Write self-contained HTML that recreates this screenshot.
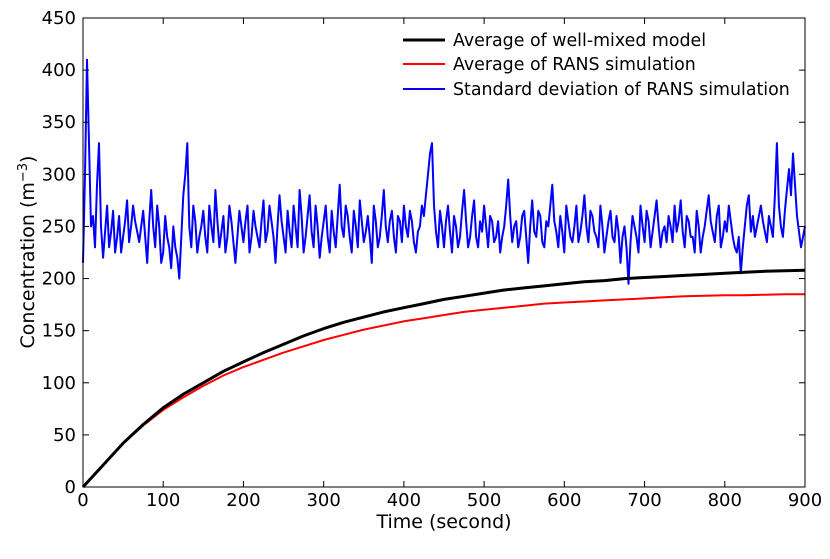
<!DOCTYPE html>
<html><head><meta charset="utf-8"><style>
body{margin:0;background:#fff;}
svg text{font-family:"DejaVu Sans","Liberation Sans",sans-serif;fill:#000;}
</style></head><body>
<svg id="chart" width="830" height="554" xmlns="http://www.w3.org/2000/svg">
<g id="series"></g>
<rect x="83" y="18" width="722" height="469" fill="none" stroke="#000" stroke-width="1"/>
<g id="ticks"></g>
<text x="444" y="528" font-size="19" text-anchor="middle">Time (second)</text>
<text transform="translate(34,252) rotate(-90)" font-size="19" text-anchor="middle">Concentration (m<tspan dy="-7" font-size="13">−3</tspan><tspan dy="7">)</tspan></text>
<g>
<line x1="403" y1="40" x2="445" y2="40" stroke="#000" stroke-width="3"/>
<text x="453" y="46" font-size="17.4">Average of well-mixed model</text>
<line x1="403" y1="64" x2="445" y2="64" stroke="#f00" stroke-width="2"/>
<text x="453" y="70" font-size="17.4">Average of RANS simulation</text>
<line x1="403" y1="89" x2="445" y2="89" stroke="#00f" stroke-width="2"/>
<text x="453" y="95" font-size="17.4">Standard deviation of RANS simulation</text>
</g>
</svg>
<script>
const xTicks=[0,100,200,300,400,500,600,700,800,900];
const yTicks=[0,50,100,150,200,250,300,350,400,450];
const smoothStep=25;
const wellMixed=[0,21,42,60,76,89,100,111,120,129,137,145,152,158,163,168,172,176,180,183,186,189,191,193,195,197,198,200,201,202,203,204,205,206,207,207.5,208];
const ransAvg=[0,21,42,59,74,86,97,107,115,122,129,135,141,146,151,155,159,162,165,168,170,172,174,176,177,178,179,180,181,182,183,183.5,184,184,184.5,185,185];
const ransStd=[215,300,410,330,250,260,230,290,330,250,220,245,270,230,245,265,225,240,260,225,240,255,275,235,250,270,255,245,235,250,265,240,215,255,285,250,230,270,250,215,225,260,240,230,210,250,230,220,200,240,280,300,330,250,230,270,255,225,240,250,265,240,225,270,250,235,285,255,230,245,260,225,240,270,255,235,215,240,265,250,235,255,270,225,240,265,250,240,230,255,275,235,245,270,255,240,215,250,280,255,240,225,265,245,230,270,250,230,285,260,225,240,260,280,245,230,270,250,220,240,255,270,240,225,265,245,230,260,290,250,240,270,260,240,225,265,250,230,275,255,235,245,260,240,215,270,255,230,240,260,285,250,235,255,265,240,225,260,255,235,270,250,240,265,255,235,225,245,250,270,260,280,300,320,330,270,245,230,265,250,230,255,270,245,225,260,250,230,240,265,285,255,230,240,260,275,240,230,255,245,270,250,230,260,255,235,240,255,225,240,250,270,295,260,235,250,255,230,240,260,265,240,215,250,275,245,240,265,260,235,230,255,250,270,290,255,245,230,260,245,225,270,255,240,235,250,270,235,245,260,280,250,235,265,260,245,240,230,270,250,225,240,255,265,240,235,260,245,215,240,250,230,195,235,260,250,240,225,270,250,235,265,255,230,245,260,275,250,230,245,250,235,260,250,235,270,245,255,275,245,230,260,255,240,240,225,265,250,225,240,250,265,280,255,245,235,260,270,230,240,255,245,270,255,240,230,225,240,205,230,250,270,280,245,260,240,250,260,270,255,245,235,260,250,240,280,330,270,250,240,265,285,305,280,320,290,260,245,230,240,250];
const X0=83,X1=805,Y0=487,Y1=18;
const sx=t=>X0+(t-0)/(900-0)*(X1-X0);
const sy=v=>Y0-(v-0)/(450-0)*(Y0-Y1);
const NS="http://www.w3.org/2000/svg";
const tg=document.getElementById('ticks'),sg=document.getElementById('series');
xTicks.forEach(t=>{
 const x=sx(t);
 for(const [a,b] of [[Y0,Y0-6],[Y1,Y1+6]]){
  const l=document.createElementNS(NS,'line');
  l.setAttribute('x1',x);l.setAttribute('x2',x);l.setAttribute('y1',a);l.setAttribute('y2',b);l.setAttribute('stroke','#000');
  
  
  tg.appendChild(l);}
 const tx=document.createElementNS(NS,'text');
 tx.setAttribute('x',x);tx.setAttribute('y',506);tx.setAttribute('font-size','18');tx.setAttribute('text-anchor','middle');tx.textContent=t;
 
 
 tg.appendChild(tx);
});
yTicks.forEach(v=>{
 const y=sy(v);
 for(const [a,b] of [[X0,X0+6],[X1,X1-6]]){
  const l=document.createElementNS(NS,'line');
  l.setAttribute('x1',a);l.setAttribute('x2',b);l.setAttribute('y1',y);l.setAttribute('y2',y);l.setAttribute('stroke','#000');
  
  
  tg.appendChild(l);}
 const tx=document.createElementNS(NS,'text');
 tx.setAttribute('x',76);tx.setAttribute('y',y+6);tx.setAttribute('font-size','18');tx.setAttribute('text-anchor','end');tx.textContent=v;
 
 
 tg.appendChild(tx);
});
function path(pts,color,w,name){
 const p=document.createElementNS(NS,'polyline');
 p.setAttribute('points',pts.map(q=>q[0].toFixed(1)+','+q[1].toFixed(1)).join(' '));
 p.setAttribute('fill','none');p.setAttribute('stroke',color);p.setAttribute('stroke-width',w);p.setAttribute('stroke-linejoin','round');
 
 
 sg.appendChild(p);
}
const stdStep=900/(ransStd.length-1);
path(ransStd.map((v,i)=>[sx(i*stdStep),sy(v)]),'#00f',2,'rans-std-line');
path(ransAvg.map((v,i)=>[sx(i*smoothStep),sy(v)]),'#f00',2,'rans-average-line');
path(wellMixed.map((v,i)=>[sx(i*smoothStep),sy(v)]),'#000',3,'well-mixed-line');
</script>
</body></html>
